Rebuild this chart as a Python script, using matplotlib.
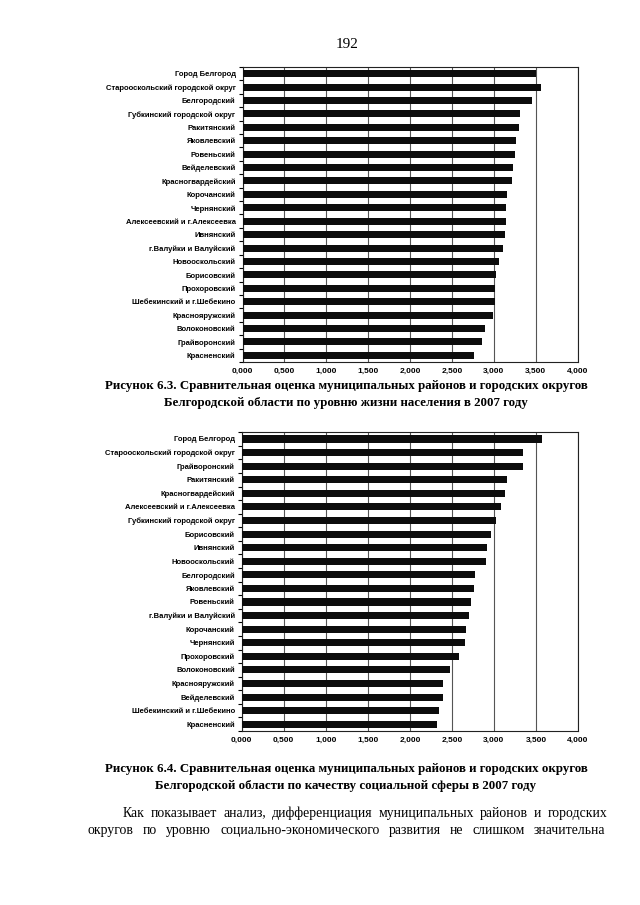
import matplotlib
matplotlib.use("Agg")
import matplotlib.pyplot as plt
from matplotlib.ticker import FixedLocator

# ---- data ----
cats1 = ["Город Белгород", "Старооскольский городской округ", "Белгородский",
         "Губкинский городской округ", "Ракитянский", "Яковлевский", "Ровеньский",
         "Вейделевский", "Красногвардейский", "Корочанский", "Чернянский",
         "Алексеевский и г.Алексеевка", "Ивнянский", "г.Валуйки и Валуйский",
         "Новооскольский", "Борисовский", "Прохоровский", "Шебекинский и г.Шебекино",
         "Краснояружский", "Волоконовский", "Грайворонский", "Красненский"]
vals1 = [3.50, 3.57, 3.46, 3.31, 3.30, 3.27, 3.25, 3.23, 3.22, 3.16, 3.15,
         3.15, 3.14, 3.11, 3.06, 3.03, 3.01, 3.01, 2.99, 2.90, 2.86, 2.76]

cats2 = ["Город Белгород", "Старооскольский городской округ", "Грайворонский",
         "Ракитянский", "Красногвардейский", "Алексеевский и г.Алексеевка",
         "Губкинский городской округ", "Борисовский", "Ивнянский", "Новооскольский",
         "Белгородский", "Яковлевский", "Ровеньский", "г.Валуйки и Валуйский",
         "Корочанский", "Чернянский", "Прохоровский", "Волоконовский",
         "Краснояружский", "Вейделевский", "Шебекинский и г.Шебекино", "Красненский"]
vals2 = [3.57, 3.35, 3.35, 3.15, 3.13, 3.08, 3.02, 2.97, 2.92, 2.91, 2.78,
         2.76, 2.73, 2.70, 2.67, 2.66, 2.58, 2.48, 2.40, 2.39, 2.35, 2.32]

xticks = [0, 0.5, 1, 1.5, 2, 2.5, 3, 3.5, 4]
xticklabels = ["0,000", "0,500", "1,000", "1,500", "2,000", "2,500", "3,000", "3,500", "4,000"]

caption1 = ["Рисунок 6.3. Сравнительная оценка муниципальных районов и городских округов",
            "Белгородской области по уровню жизни населения в 2007 году"]
caption2 = ["Рисунок 6.4. Сравнительная оценка муниципальных районов и городских округов",
            "Белгородской области по качеству социальной сферы в 2007 году"]
body = ["Как показывает анализ, дифференциация муниципальных районов и городских",
        "округов по уровню социально-экономического развития не слишком значительна"]

W, H = 640, 905
fig = plt.figure(figsize=(6.4, 9.05), dpi=100)
fig.patch.set_facecolor("white")

sans = ["Liberation Sans", "DejaVu Sans"]
serif = ["Liberation Serif", "DejaVu Serif"]


def draw(rect, cats, vals):
    ax = fig.add_axes(rect)
    n = len(cats)
    y = list(range(n))
    ax.barh(y, vals, height=0.52, color="#0c0c0c", zorder=3)
    ax.set_ylim(n - 0.5, -0.5)
    ax.set_xlim(0, 4)
    ax.set_yticks(y)
    ax.set_yticklabels(cats, family=sans, fontsize=5.5, fontweight="bold")
    ax.yaxis.set_minor_locator(FixedLocator([i + 0.5 for i in range(-1, n)]))
    ax.tick_params(axis="y", which="major", length=0, pad=5)
    ax.tick_params(axis="y", which="minor", length=3, width=0.8, direction="out")
    ax.set_xticks(xticks)
    ax.set_xticklabels(xticklabels, family=sans, fontsize=6.0, fontweight="bold")
    ax.tick_params(axis="x", length=0, pad=4)
    ax.grid(axis="x", color="#555555", linewidth=0.8, zorder=1)
    for s in ax.spines.values():
        s.set_color("#222222")
        s.set_linewidth(0.8)
    return ax


draw([242.5 / W, 1 - 362 / H, 335 / W, 295 / H], cats1, vals1)
draw([241.7 / W, 1 - 731 / H, 336.3 / W, 298.8 / H], cats2, vals2)

# page number
fig.text(347 / W, 1 - 45 / H, "192", family=serif, fontsize=11, ha="center", va="center")

# captions
for i, line in enumerate(caption1):
    fig.text(346 / W, 1 - (386 + 17 * i) / H, line, family=serif, fontsize=9.3,
             fontweight="bold", ha="center", va="center")
for i, line in enumerate(caption2):
    fig.text(346 / W, 1 - (769 + 16.5 * i) / H, line, family=serif, fontsize=9.3,
             fontweight="bold", ha="center", va="center")

# body text, justified
renderer = fig.canvas.get_renderer()


def justify(line, x0, x1, ypix, size):
    words = line.split(" ")
    widths = []
    for w in words:
        t = fig.text(0, 0, w, family=serif, fontsize=size)
        widths.append(t.get_window_extent(renderer).width)
        t.remove()
    gap = (x1 - x0 - sum(widths)) / (len(words) - 1)
    x = x0
    for w, wd in zip(words, widths):
        fig.text(x / W, 1 - ypix / H, w, family=serif, fontsize=size, ha="left", va="center")
        x += wd + gap


justify(body[0], 123, 607, 813, 9.9)
justify(body[1], 88, 605, 830, 9.9)

fig.savefig("out.png", dpi=100, facecolor="white")
